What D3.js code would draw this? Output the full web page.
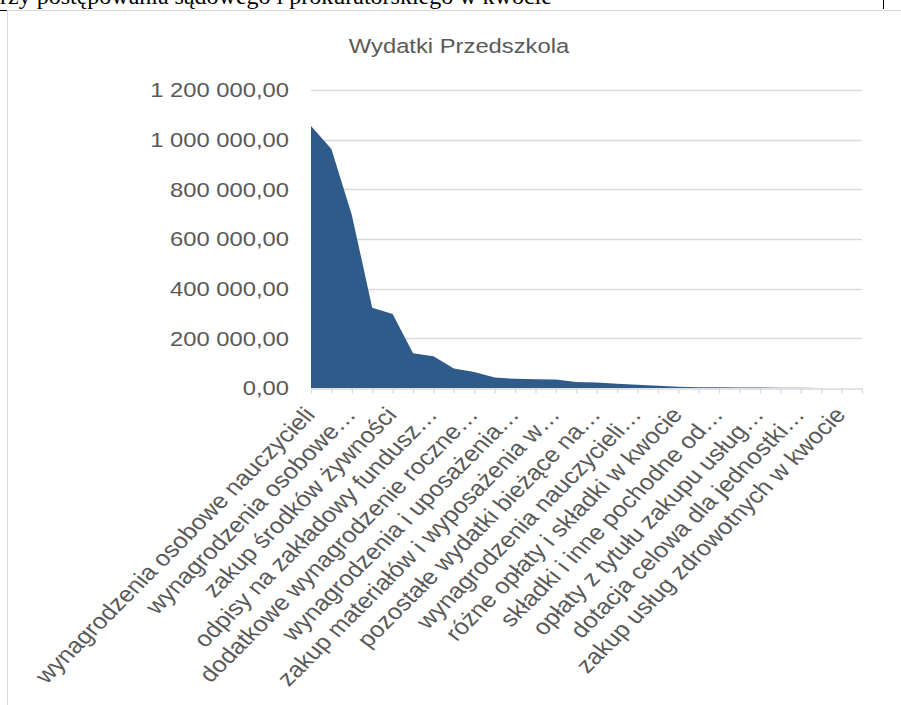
<!DOCTYPE html>
<html>
<head>
<meta charset="utf-8">
<script src="https://cdn.jsdelivr.net/npm/d3@7"></script>
<style>
  body { margin: 0; background: #fff; }
  svg { display: block; }
</style>
</head>
<body>
<svg id="chart" width="901" height="705"></svg>
<script>
// categories in chart order (only every second one is labelled on the axis)
const categories = [
  "wynagrodzenia osobowe nauczycieli",
  "składki na ubezpieczenia społeczne",
  "wynagrodzenia osobowe…",
  "zakup usług pozostałych",
  "zakup środków żywności",
  "zakup energii",
  "odpisy na zakładowy fundusz…",
  "składki na Fundusz Pracy",
  "dodatkowe wynagrodzenie roczne…",
  "zakup materiałów i wyposażenia",
  "wynagrodzenia i uposażenia…",
  "wydatki osobowe niezaliczone do wynagrodzeń",
  "zakup materiałów i wyposażenia w…",
  "zakup usług remontowych",
  "pozostałe wydatki bieżące na…",
  "podróże służbowe krajowe",
  "wynagrodzenia nauczycieli…",
  "zakup pomocy dydaktycznych",
  "różne opłaty i składki w kwocie",
  "szkolenia pracowników",
  "składki i inne pochodne od…",
  "zakup usług dostępu do sieci Internet",
  "opłaty z tytułu zakupu usług…",
  "podatek od nieruchomości",
  "dotacja celowa dla jednostki…",
  "wpłaty na PFRON",
  "zakup usług zdrowotnych w kwocie",
  "koszty postępowania sądowego i prokuratorskiego"
];

const values = [
  1055000, 962000, 697000, 323000, 298000, 140000, 128000, 79000,
  64000, 42000, 37000, 35000, 34000, 24000, 22000, 17000,
  13000, 9000, 5000, 3500, 3000, 2500, 1800, 1200,
  800, 500, 300, 100
];

const yTicks = [0, 200000, 400000, 600000, 800000, 1000000, 1200000];
const title = "Wydatki Przedszkola";
const headerText = "rzy postępowania sądowego i prokuratorskiego w kwocie";

const svg = d3.select("#chart");
const textColor = "#595959";
const gridColor = "#d9d9d9";
const stretch = 1.16; // the source picture is stretched horizontally

// leftover document text and table lines above the chart
svg.append("text")
  .attr("x", 0)
  .attr("y", 4)
  .attr("font-family", "Liberation Serif")
  .attr("font-size", 24)
  .attr("fill", "#000")
  .text(headerText);
svg.append("line").attr("x1", 0).attr("x2", 7).attr("y1", 10.5).attr("y2", 10.5).attr("stroke", "#000");
svg.append("line").attr("x1", 883.5).attr("x2", 883.5).attr("y1", 0).attr("y2", 9).attr("stroke", "#000");

// chart frame
svg.append("path")
  .attr("d", "M7.5,705V10.5H901")
  .attr("fill", "none")
  .attr("stroke", gridColor);

const x = d3.scalePoint()
  .domain(categories)
  .range([311, 862]);

const y = d3.scaleLinear()
  .domain([0, 1200000])
  .range([388, 90]);

const locale = d3.formatLocale({ decimal: ",", thousands: " ", grouping: [3], currency: ["", ""] });
const fmt = locale.format(",.2f");

// gridlines
svg.append("g")
  .selectAll("line")
  .data(yTicks.slice(1))
  .join("line")
  .attr("x1", 311)
  .attr("x2", 862)
  .attr("y1", (d) => Math.round(y(d)) + 0.5)
  .attr("y2", (d) => Math.round(y(d)) + 0.5)
  .attr("stroke", gridColor)
  .attr("stroke-width", 1.3);

// y labels
svg.append("g")
  .selectAll("text")
  .data(yTicks)
  .join("text")
  .attr("transform", (d) => `translate(289,${y(d)}) scale(${stretch},1)`)
  .attr("text-anchor", "end")
  .attr("dy", "0.35em")
  .attr("font-family", "Liberation Sans")
  .attr("font-size", 20.5)
  .attr("fill", textColor)
  .text((d) => fmt(d));

// area
const area = d3.area()
  .x((d, i) => x(categories[i]))
  .y0(y(0))
  .y1((d) => y(d));

svg.append("path")
  .datum(values)
  .attr("d", area)
  .attr("fill", "#2f5b8a");

// x axis
const xAxis = d3.axisBottom(x)
  .tickSize(5)
  .tickSizeOuter(0)
  .tickFormat((d, i) => (i % 2 === 0 ? d : ""));

const gx = svg.append("g")
  .attr("transform", `translate(0,${y(0) + 0.5})`)
  .call(xAxis);

gx.select(".domain").attr("stroke", gridColor).attr("stroke-width", 1.3);
gx.selectAll(".tick line").attr("stroke", gridColor).attr("stroke-width", 1.3);
gx.selectAll(".tick text")
  .attr("y", null)
  .attr("dy", "0.35em")
  .attr("text-anchor", "end")
  .attr("transform", `translate(-2,22) scale(${stretch},1) rotate(-49.2)`)
  .attr("font-family", "Liberation Sans")
  .attr("font-size", 22)
  .attr("fill", textColor);

// title
svg.append("text")
  .attr("transform", `translate(459,53) scale(${stretch},1)`)
  .attr("text-anchor", "middle")
  .attr("font-family", "Liberation Sans")
  .attr("font-size", 20.5)
  .attr("fill", textColor)
  .text(title);
</script>
</body>
</html>
